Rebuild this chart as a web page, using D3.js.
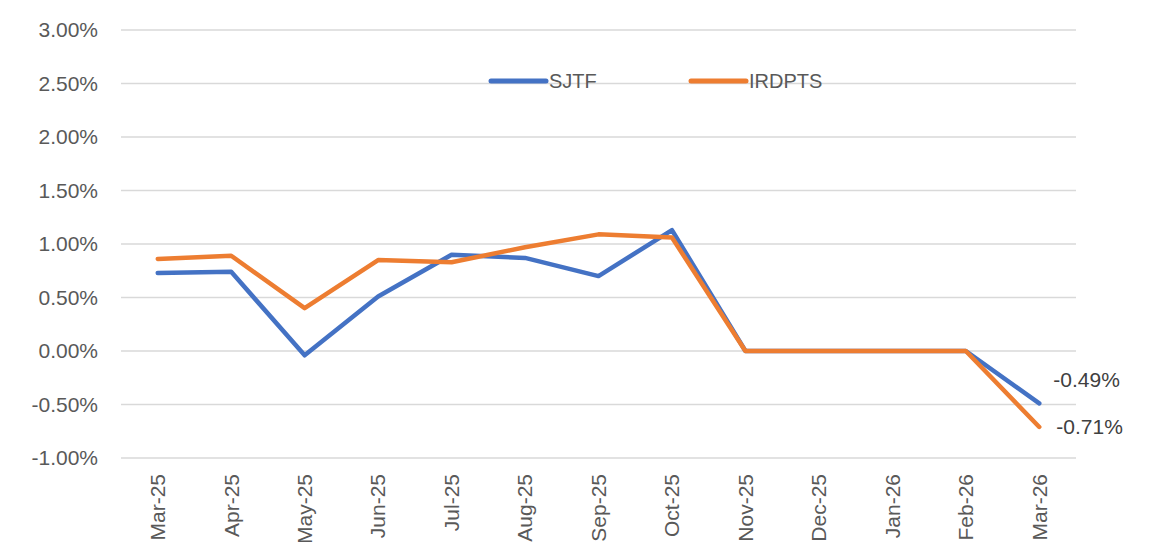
<!DOCTYPE html>
<html>
<head>
<meta charset="utf-8">
<script src="https://cdn.jsdelivr.net/npm/d3@7"></script>
<style>
  html, body { margin: 0; padding: 0; background: #fff; }
  svg { display: block; font-family: "Liberation Sans", Arial, sans-serif; }
</style>
</head>
<body>
<div id="chart"></div>
<script>
// chart data
const months = ['Mar-25', 'Apr-25', 'May-25', 'Jun-25', 'Jul-25', 'Aug-25', 'Sep-25',
  'Oct-25', 'Nov-25', 'Dec-25', 'Jan-26', 'Feb-26', 'Mar-26'];
const sjtf = [0.73, 0.74, -0.04, 0.51, 0.90, 0.87, 0.70, 1.13, 0, 0, 0, 0, -0.49];
const irdpts = [0.86, 0.89, 0.40, 0.85, 0.83, 0.97, 1.09, 1.06, 0, 0, 0, 0, -0.71];
const yTicks = [3, 2.5, 2, 1.5, 1, 0.5, 0, -0.5, -1];

const seriesList = [
  { name: 'SJTF', values: sjtf, color: '#4472C4' },
  { name: 'IRDPTS', values: irdpts, color: '#ED7D31' }
];

const width = 1156, height = 542;
const margin = { left: 121, right: 80, top: 30, bottom: 84 };

const svg = d3.select('#chart').append('svg')
  .attr('width', width)
  .attr('height', height);

const x = d3.scaleBand()
  .domain(months)
  .range([margin.left, width - margin.right]);

const y = d3.scaleLinear()
  .domain([-1, 3])
  .range([height - margin.bottom, margin.top]);

const fmt = d => d.toFixed(2) + '%';

// gridlines
svg.append('g')
  .selectAll('line')
  .data(yTicks)
  .enter().append('line')
  .attr('x1', margin.left)
  .attr('x2', width - margin.right)
  .attr('y1', d => y(d))
  .attr('y2', d => y(d))
  .attr('stroke', '#d9d9d9')
  .attr('stroke-width', 1.3);

// y axis labels
svg.append('g')
  .selectAll('text')
  .data(yTicks)
  .enter().append('text')
  .attr('x', 98)
  .attr('y', d => y(d))
  .attr('dy', '0.35em')
  .attr('text-anchor', 'end')
  .attr('fill', '#595959')
  .style('font-size', '21px')
  .text(fmt);

// x axis labels (rotated)
svg.append('g')
  .selectAll('text')
  .data(months)
  .enter().append('text')
  .attr('transform', d => `translate(${x(d) + x.bandwidth() / 2},474) rotate(-90)`)
  .attr('dy', '0.35em')
  .attr('text-anchor', 'end')
  .attr('fill', '#595959')
  .style('font-size', '21px')
  .text(d => d);

// lines
const line = d3.line()
  .x((d, i) => x(months[i]) + x.bandwidth() / 2)
  .y(d => y(d));

svg.append('g')
  .selectAll('path')
  .data(seriesList)
  .enter().append('path')
  .attr('d', d => line(d.values))
  .attr('fill', 'none')
  .attr('stroke', d => d.color)
  .attr('stroke-width', 4.5)
  .attr('stroke-linejoin', 'round')
  .attr('stroke-linecap', 'round');

// end labels
const last = months.length - 1;
const lastX = x(months[last]) + x.bandwidth() / 2;
svg.append('text')
  .attr('x', lastX + 14)
  .attr('y', y(sjtf[last]) - 24)
  .attr('dy', '0.35em')
  .attr('fill', '#404040')
  .style('font-size', '21px')
  .text(fmt(sjtf[last]));
svg.append('text')
  .attr('x', lastX + 17)
  .attr('y', y(irdpts[last]))
  .attr('dy', '0.35em')
  .attr('fill', '#404040')
  .style('font-size', '21px')
  .text(fmt(irdpts[last]));

// legend
const legendX = [491, 691];
const legend = svg.append('g')
  .selectAll('g')
  .data(seriesList)
  .enter().append('g')
  .attr('transform', (d, i) => `translate(${legendX[i]},81)`);

legend.append('line')
  .attr('x1', 0)
  .attr('x2', 55)
  .attr('stroke', d => d.color)
  .attr('stroke-width', 5)
  .attr('stroke-linecap', 'round');

legend.append('text')
  .attr('x', 58)
  .attr('dy', '0.35em')
  .attr('fill', '#595959')
  .style('font-size', '20px')
  .text(d => d.name);
</script>
</body>
</html>
